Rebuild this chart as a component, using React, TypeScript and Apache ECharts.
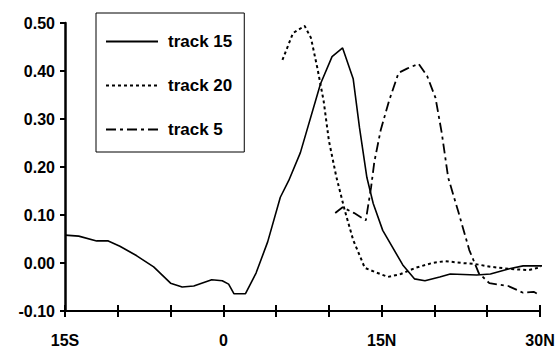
import React, { useEffect, useRef } from "react";
import * as echarts from "echarts";

const xTicks = [-15, 30, 5];
const xLabels: Record<string, string> = { "-15": "15S", "0": "0", "15": "15N", "30": "30N" };
const yTicks = [-0.1, 0.5, 0.1];

const seriesNames = ["track 15", "track 20", "track 5"];

const track15Lat = [-15, -13.7, -12, -10.9, -9.8, -8.2, -6.6, -5, -3.9, -2.8, -1.1, -0.1, 0.5, 1.0, 2.1, 3.1, 4.2, 5.4, 6.2, 7.3, 9.2, 10.3, 11.3, 12.3, 12.9, 13.6, 14.2, 15.1, 17.0, 18.1, 19.1, 20.5, 21.5, 24.0, 25.3, 27.1, 28.4, 30.2];
const track15Val = [0.058, 0.056, 0.046, 0.046, 0.035, 0.015, -0.008, -0.042, -0.05, -0.048, -0.035, -0.037, -0.044, -0.064, -0.064, -0.021, 0.044, 0.137, 0.172, 0.23, 0.373, 0.43, 0.448, 0.384, 0.282, 0.178, 0.124, 0.068, -0.004, -0.033, -0.037, -0.029, -0.023, -0.025, -0.023, -0.012, -0.006, -0.006];

const track20Lat = [5.6, 6.6, 7.7, 8.3, 8.9, 9.5, 10.0, 10.7, 11.5, 12.3, 13.4, 14.4, 15.6, 16.8, 18.2, 19.8, 21.0, 22.6, 23.8, 25.4, 27.0, 28.9, 30.2];
const track20Val = [0.423, 0.479, 0.494, 0.469, 0.407, 0.338, 0.255, 0.18, 0.11, 0.048, -0.01, -0.019, -0.029, -0.023, -0.01, 0.0, 0.004, 0.0, -0.002, -0.008, -0.012, -0.015, -0.008];

const track5Lat = [10.6, 11.3, 12.4, 13.5, 14.0, 14.3, 14.9, 15.7, 16.6, 17.4, 18.5, 19.3, 20.1, 20.7, 21.3, 22.3, 23.3, 24.2, 25.2, 27.0, 28.4, 29.4, 29.9];
const track5Val = [0.104, 0.116, 0.104, 0.089, 0.158, 0.21, 0.276, 0.338, 0.396, 0.405, 0.415, 0.39, 0.344, 0.27, 0.178, 0.104, 0.027, -0.021, -0.042, -0.048, -0.062, -0.06, -0.066];

const zip = (a: number[], b: number[]) => a.map((v, i) => [v, b[i]]);

export default function App() {
  const ref = useRef<HTMLDivElement>(null);
  useEffect(() => {
    if (!ref.current) return;
    const chart = echarts.init(ref.current, null, { renderer: "svg" });
    const font = "'Liberation Sans', Arial, sans-serif";
    const lineBase = { color: "#000", width: 1.6 };
    chart.setOption({
      animation: false,
      backgroundColor: "#fff",
      grid: { left: 65, right: 18, top: 23, bottom: 36, containLabel: false },
      legend: {
        orient: "vertical",
        left: 96,
        top: 13,
        padding: [20, 12, 14, 9],
        itemGap: 27,
        itemWidth: 52,
        itemHeight: 18,
        borderColor: "#000",
        borderWidth: 1,
        data: seriesNames,
        itemStyle: { opacity: 0 },
        textStyle: { color: "#000", fontSize: 17, fontWeight: "bold", fontFamily: font, padding: [0, 0, 0, 5] },
      },
      xAxis: [
        {
          type: "value",
          min: xTicks[0],
          max: xTicks[1],
          interval: xTicks[2],
          axisLine: { show: true, onZero: false, lineStyle: { color: "#000", width: 2 } },
          axisTick: { show: true, length: 6, lineStyle: { color: "#000", width: 2 } },
          splitLine: { show: false },
          axisLabel: {
            margin: 21,
            color: "#000",
            fontSize: 16,
            fontWeight: "bold",
            fontFamily: font,
            formatter: (v: number) => xLabels[String(v)] ?? "",
          },
        },
        {
          type: "value",
          position: "bottom",
          min: xTicks[0],
          max: xTicks[1],
          interval: xTicks[2],
          axisLine: { show: false, onZero: false },
          axisTick: { show: true, inside: true, length: 6, lineStyle: { color: "#000", width: 2 } },
          splitLine: { show: false },
          axisLabel: { show: false },
        },
      ],
      yAxis: {
        type: "value",
        min: yTicks[0],
        max: yTicks[1],
        interval: yTicks[2],
        axisLine: { show: true, onZero: false, lineStyle: { color: "#000", width: 2.5 } },
        axisTick: { show: true, length: 5, lineStyle: { color: "#000", width: 2 } },
        splitLine: { show: false },
        axisLabel: {
          margin: 10,
          color: "#000",
          fontSize: 16,
          fontWeight: "bold",
          fontFamily: font,
          formatter: (v: number) => v.toFixed(2),
        },
      },
      series: [
        {
          name: seriesNames[0],
          type: "line",
          xAxisIndex: 0,
          showSymbol: false,
          symbol: "none",
          smooth: false,
          data: zip(track15Lat, track15Val),
          lineStyle: { ...lineBase, type: "solid" },
          itemStyle: { color: "#000" },
        },
        {
          name: seriesNames[1],
          type: "line",
          xAxisIndex: 0,
          showSymbol: false,
          symbol: "none",
          data: zip(track20Lat, track20Val),
          lineStyle: { ...lineBase, width: 2, type: [3, 3] },
          itemStyle: { color: "#000" },
        },
        {
          name: seriesNames[2],
          type: "line",
          xAxisIndex: 0,
          showSymbol: false,
          symbol: "none",
          data: zip(track5Lat, track5Val),
          lineStyle: { ...lineBase, width: 1.8, type: [10, 4, 3, 4] },
          itemStyle: { color: "#000" },
        },
      ],
    });
    return () => chart.dispose();
  }, []);
  return <div ref={ref} style={{ width: 558, height: 348, position: "absolute", left: 0, top: 0 }} />;
}
